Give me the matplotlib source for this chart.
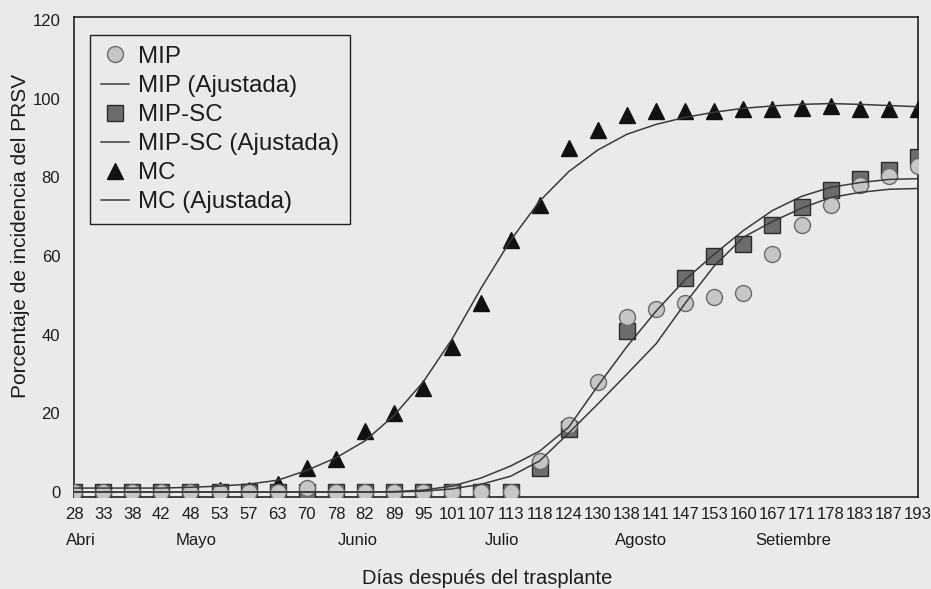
"""Porcentaje de incidencia del PRSV: MIP, MIP-SC y MC con curvas ajustadas"""

import numpy as np
import matplotlib
matplotlib.use('Agg')
import matplotlib.pyplot as plt
from matplotlib.transforms import blended_transform_factory

plt.rcParams['font.family'] = ['Liberation Sans', 'DejaVu Sans']

DAYS = [28, 33, 38, 42, 48, 53, 57, 63, 70, 78, 82, 89, 95, 101, 107,
        113, 118, 124, 130, 138, 141, 147, 153, 160, 167, 171, 178, 183, 187, 193]

MONTHS = ['Abri', 'Mayo', 'Junio', 'Julio', 'Agosto', 'Setiembre']
MONTH_POS = [0.25, 4.2, 9.75, 14.7, 19.5, 24.7]

nan = np.nan

# observed incidence (%)
MIP = [0, 0, 0, 0, 0, 0, 0, 0, 1, 0, 0, 0, 0, 0, 0,
       0, 8, 17, 28, 44.5, 46.5, 48, 49.5, 50.5, 60.5, 68, 73, 78, 80.5, 83]
MIP_SC = [0, 0, 0, 0, 0, 0, 0, 0, 0, 0, 0, 0, 0, 0, 0,
          0, 6, 16, nan, 41, nan, 54.5, 60, 63, 68, 72.5, 76.7, 79.5, 81.8, 85.3]
MC = [0, 0, 0, 0, 0, 0.5, 0.5, 2, 6, 8.5, 15.5, 20, 26.5, 37, 48,
      64, 73, 87.5, 92, 96, 97, 97, 97, 97.3, 97.3, 97.6, 98.3, 97.5, 97.5, 97.5]

# fitted curves
MIP_FIT = [0, 0, 0, 0, 0, 0, 0, 0, 0, 0, 0, 0, 0.2, 0.8, 2.0,
           4.0, 7.9, 15, 22.4, 30, 37.7, 48, 57.5, 64.8, 68.8, 72.2, 74.9, 76.2, 77, 77.2]
MIP_SC_FIT = [0, 0, 0, 0, 0, 0, 0, 0, 0, 0, 0, 0.1, 0.5, 1.5, 3.6,
              6.6, 10.4, 16.5, 27, 37, 46, 54, 60.5, 66.5, 71.6, 75.2, 77.5, 78.7, 79.5, 79.7]
MC_FIT = [1, 1, 1, 1, 1.2, 1.5, 2, 3, 5.5, 8.7, 13, 19.5, 28, 39, 52,
          64, 74, 81.5, 87, 91, 93.5, 95.3, 96.6, 97.6, 98.2, 98.6, 98.8, 98.6, 98.3, 98]

PAPER = '#eaeae8'
INK = '#1c1c1c'
LINE = '#3a3a3a'


def main():
    fig = plt.figure(figsize=(9.31, 5.89), dpi=100, facecolor=PAPER)
    ax = fig.add_axes([0.0795, 0.156, 0.9065, 0.815], facecolor=PAPER)

    x = np.arange(len(DAYS))

    ax.plot(x, MIP, 'o', ms=11.5, mfc='#c6c6c6', mec='#6a6a6a', mew=1.0,
            zorder=5, label='MIP')
    ax.plot(x, MIP_FIT, '-', color=LINE, lw=1.1, zorder=6, label='MIP (Ajustada)')
    ax.plot(x, MIP_SC, 's', ms=11, mfc='#6c6c6c', mec='#2a2a2a', mew=1.0,
            zorder=3, label='MIP-SC')
    ax.plot(x, MIP_SC_FIT, '-', color=LINE, lw=1.1, zorder=6, label='MIP-SC (Ajustada)')
    ax.plot(x, MC, '^', ms=12, mfc='#111111', mec='#111111', zorder=4, label='MC')
    ax.plot(x, MC_FIT, '-', color=LINE, lw=1.1, zorder=6, label='MC (Ajustada)')

    ax.set_xlim(0, 29)
    ax.set_ylim(-1.3, 120.8)

    ax.set_xticks(x)
    ax.set_xticklabels([str(d) for d in DAYS], fontsize=12, color=INK)
    ax.set_yticks(np.arange(0, 121, 20))
    ax.set_yticklabels([str(v) for v in range(0, 121, 20)], fontsize=12, color=INK)
    ax.tick_params(axis='x', length=0, pad=7)
    ax.tick_params(axis='y', length=0, pad=10)

    for spine in ax.spines.values():
        spine.set_color('#222222')
        spine.set_linewidth(1.2)

    # month names under the day labels
    trans = blended_transform_factory(ax.transData, ax.transAxes)
    for name, pos in zip(MONTHS, MONTH_POS):
        ax.text(pos, -0.09, name, transform=trans, ha='center', va='center',
                fontsize=12, color=INK)

    ax.set_xlabel('Días después del trasplante', fontsize=14.5, color=INK, va='top')
    ax.xaxis.set_label_coords(0.49, -0.15)
    ax.set_ylabel('Porcentaje de incidencia del PRSV', fontsize=15, color=INK)
    ax.yaxis.set_label_coords(-0.052, 0.545)

    leg = ax.legend(loc='upper left', bbox_to_anchor=(0.019, 0.9625), borderaxespad=0,
                    fontsize=17.4, frameon=True, fancybox=False, handlelength=1.15,
                    handletextpad=0.4, labelspacing=0.29, borderpad=0.45)
    leg.get_frame().set_edgecolor('#222222')
    leg.get_frame().set_facecolor(PAPER)
    leg.get_frame().set_linewidth(1.0)
    leg.get_frame().set_alpha(1)
    for text in leg.get_texts():
        text.set_color(INK)

    fig.savefig('out.png', dpi=100, facecolor=PAPER)


if __name__ == '__main__':
    main()
